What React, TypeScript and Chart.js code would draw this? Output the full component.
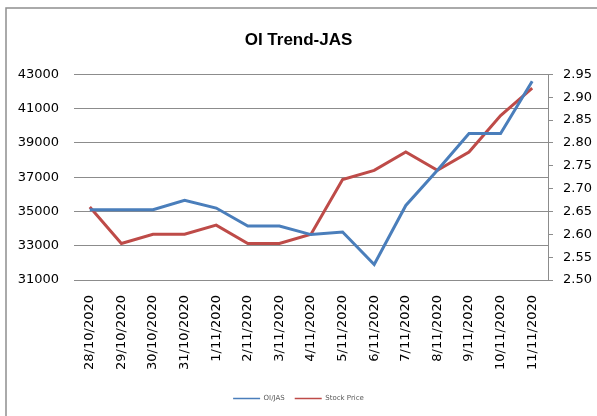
import React, { useEffect, useRef } from "react";
import { Chart, registerables } from "chart.js";

Chart.register(...registerables);

const categories = [
  "28/10/2020", "29/10/2020", "30/10/2020", "31/10/2020", "1/11/2020",
  "2/11/2020", "3/11/2020", "4/11/2020", "5/11/2020", "6/11/2020",
  "7/11/2020", "8/11/2020", "9/11/2020", "10/11/2020", "11/11/2020",
];
const oiValues = [35100, 35100, 35100, 35650, 35200, 34150, 34150, 33650, 33800, 31900, 35350, 37400, 39550, 39550, 42600];
const priceValues = [2.66, 2.58, 2.6, 2.6, 2.62, 2.58, 2.58, 2.6, 2.72, 2.74, 2.78, 2.74, 2.78, 2.86, 2.92];
const leftTickValues = [31000, 33000, 35000, 37000, 39000, 41000, 43000];
const rightTickValues = [2.5, 2.55, 2.6, 2.65, 2.7, 2.75, 2.8, 2.85, 2.9, 2.95];

const titleText = "OI Trend-JAS";
const seriesNames = ["OI/JAS", "Stock Price"];
const BLUE = "#4a7ebb";
const RED = "#be4b48";
const GRID = "#8c8c8c";
const TICK_FONT = { family: "DejaVu Sans", size: 13 };

const framePlugin = {
  id: "frame",
  beforeDraw(chart: any) {
    const ctx = chart.ctx;
    ctx.save();
    ctx.fillStyle = "#ffffff";
    ctx.fillRect(0, 0, chart.width, chart.height);
    ctx.strokeStyle = "#8f8f8f";
    ctx.lineWidth = 1.5;
    ctx.strokeRect(6, 8, chart.width + 20, chart.height + 20);
    ctx.restore();
  },
};

export default function App() {
  const ref = useRef<HTMLCanvasElement | null>(null);

  useEffect(() => {
    if (!ref.current) return;
    const chart = new Chart(ref.current, {
      type: "line",
      data: {
        labels: categories,
        datasets: [
          {
            label: seriesNames[0],
            data: oiValues,
            borderColor: BLUE,
            backgroundColor: BLUE,
            borderWidth: 3,
            pointRadius: 0,
            tension: 0,
            yAxisID: "y",
          },
          {
            label: seriesNames[1],
            data: priceValues,
            borderColor: RED,
            backgroundColor: RED,
            borderWidth: 3,
            pointRadius: 0,
            tension: 0,
            yAxisID: "y1",
          },
        ],
      },
      options: {
        responsive: false,
        animation: false,
        layout: { padding: { left: 0, right: 0, top: 0, bottom: 4 } },
        plugins: {
          title: {
            display: true,
            text: titleText,
            color: "#000",
            font: { family: "Liberation Sans", size: 17, weight: "bold" },
            padding: { top: 30, bottom: 24 },
          },
          legend: {
            position: "bottom",
            labels: {
              color: "#595959",
              font: { family: "DejaVu Sans", size: 7 },
              usePointStyle: true,
              pointStyleWidth: 27,
              padding: 10,
              generateLabels(chart: any) {
                return chart.data.datasets.map((ds: any, i: number) => ({
                  text: ds.label,
                  fillStyle: ds.borderColor,
                  strokeStyle: ds.borderColor,
                  lineWidth: 1.5,
                  pointStyle: "line",
                  fontColor: "#595959",
                  hidden: false,
                  datasetIndex: i,
                }));
              },
            },
          },
          tooltip: { enabled: false },
        },
        scales: {
          x: {
            offset: true,
            grid: { display: false, drawTicks: false, offset: true },
            border: { display: false },
            ticks: {
              color: "#000",
              font: TICK_FONT,
              minRotation: 90,
              maxRotation: 90,
              autoSkip: false,
              padding: 15,
            },
            afterFit(scale: any) {
              scale.height = 105;
            },
          },
          y: {
            position: "left",
            min: 31000,
            max: 43000,
            afterBuildTicks(scale: any) {
              scale.ticks = leftTickValues.map((v) => ({ value: v }));
            },
            grid: { color: GRID, lineWidth: 1, drawTicks: false },
            border: { display: false },
            ticks: {
              color: "#000",
              font: TICK_FONT,
              padding: 15,
              callback: (v: any) => String(v),
            },
            afterFit(scale: any) {
              scale.width = 74;
            },
          },
          y1: {
            position: "right",
            min: 2.5,
            max: 2.95,
            afterBuildTicks(scale: any) {
              scale.ticks = rightTickValues.map((v) => ({ value: v }));
            },
            grid: { drawOnChartArea: false, drawTicks: true, tickLength: 5, color: GRID },
            border: { display: true, color: GRID, width: 1 },
            ticks: {
              color: "#000",
              font: TICK_FONT,
              padding: 10,
              callback: (v: any) => Number(v).toFixed(2),
            },
            afterFit(scale: any) {
              scale.width = 49;
            },
          },
        },
      },
      plugins: [framePlugin],
    });
    return () => chart.destroy();
  }, []);

  return (
    <div style={{ position: "absolute", left: 0, top: 0, width: 597, height: 416 }}>
      <canvas ref={ref} width={597} height={416} />
    </div>
  );
}
